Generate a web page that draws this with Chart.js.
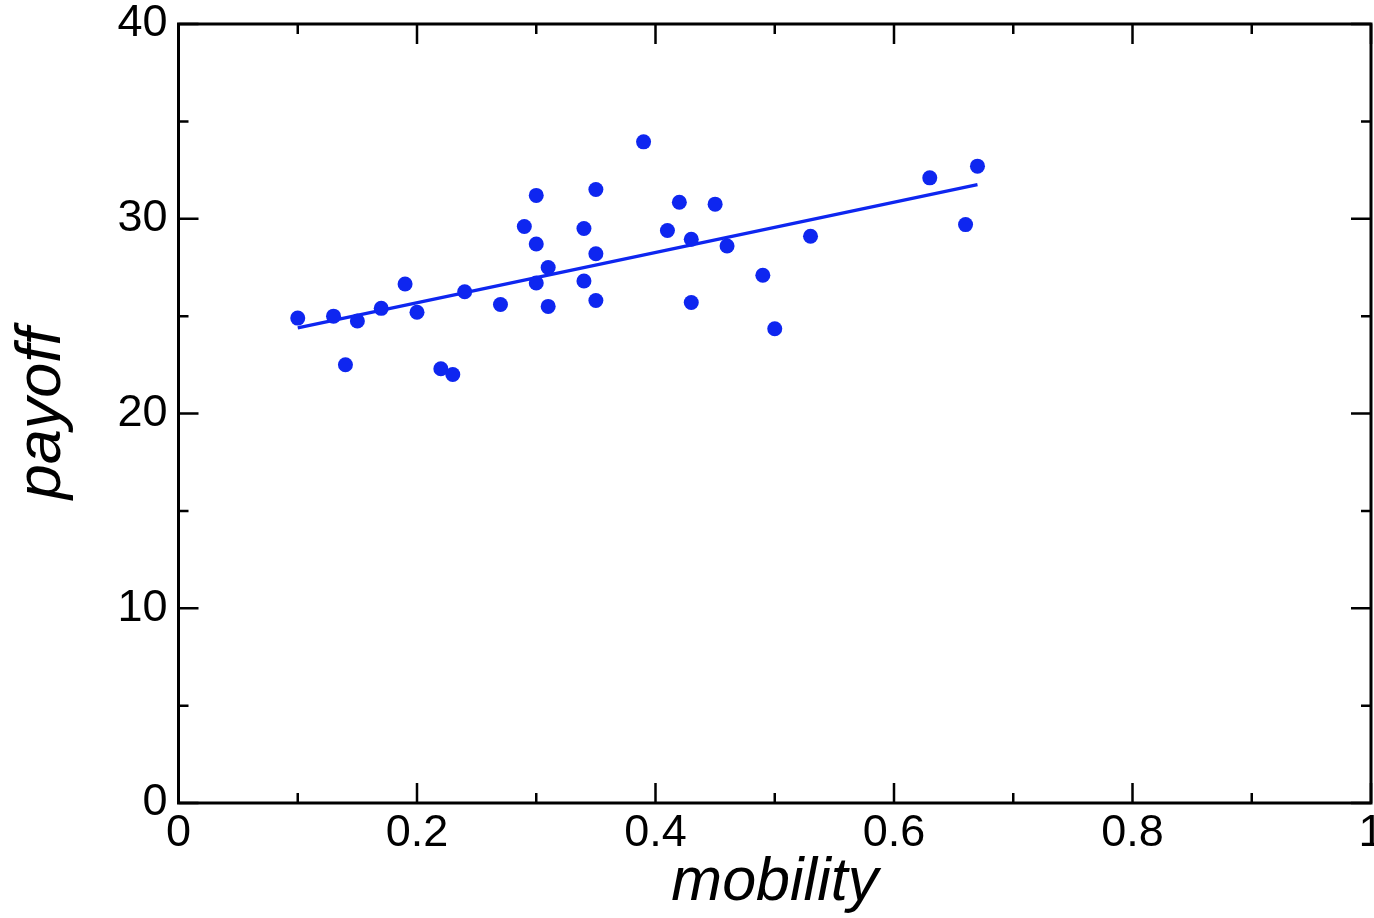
<!DOCTYPE html>
<html>
<head>
<meta charset="utf-8">
<title>payoff vs mobility</title>
<script src="https://cdn.jsdelivr.net/npm/chart.js@4/dist/chart.umd.min.js"></script>
<style>
  html, body { margin: 0; padding: 0; background: #fff; }
  canvas { display: block; }
</style>
</head>
<body>
<canvas id="c" width="1374" height="918"></canvas>
<script>
// Observed mobility and payoff for each individual
const mobility = [0.10, 0.13, 0.14, 0.15, 0.17, 0.19, 0.20, 0.22, 0.23, 0.24,
                  0.27, 0.29, 0.30, 0.30, 0.30, 0.31, 0.31, 0.34, 0.34, 0.35,
                  0.35, 0.35, 0.39, 0.41, 0.42, 0.43, 0.43, 0.45, 0.46, 0.49,
                  0.50, 0.53, 0.63, 0.66, 0.67];
const payoff   = [24.9, 25.0, 22.5, 24.75, 25.4, 26.65, 25.2, 22.3, 22.0, 26.25,
                  25.6, 29.6, 31.2, 28.7, 26.7, 27.5, 25.5, 29.5, 26.8, 31.5,
                  28.2, 25.8, 33.95, 29.4, 30.85, 28.95, 25.7, 30.75, 28.6, 27.1,
                  24.35, 29.1, 32.1, 29.7, 32.7];

// Least-squares fit line end points
const fitX = [0.10, 0.67];
const fitY = [24.4, 31.75];

// Axis ticks
const xTickValues = [0, 0.2, 0.4, 0.6, 0.8, 1];
const xTickLabels = ['0', '0.2', '0.4', '0.6', '0.8', '1'];
const xMinorValues = [0.1, 0.3, 0.5, 0.7, 0.9];
const yTickValues = [0, 10, 20, 30, 40];
const yTickLabels = ['0', '10', '20', '30', '40'];
const yMinorValues = [5, 15, 25, 35];

const xTitle = 'mobility';
const yTitle = 'payoff';

const BLUE = 'rgb(14, 38, 240)';
const FONT = '"Liberation Sans", Arial, Helvetica, sans-serif';

// Boxed frame with inward major/minor ticks on all four sides
const framePlugin = {
  id: 'frame',
  beforeDatasetsDraw(chart) {
    const { ctx, chartArea: a, scales: { x, y } } = chart;
    ctx.save();
    ctx.strokeStyle = '#000';
    ctx.lineCap = 'butt';
    ctx.lineWidth = 2.5;
    const majorLen = 20, minorLen = 10;
    const tickX = (v, len) => {
      const px = x.getPixelForValue(v);
      ctx.beginPath();
      ctx.moveTo(px, a.bottom); ctx.lineTo(px, a.bottom - len);
      ctx.moveTo(px, a.top); ctx.lineTo(px, a.top + len);
      ctx.stroke();
    };
    const tickY = (v, len) => {
      const py = y.getPixelForValue(v);
      ctx.beginPath();
      ctx.moveTo(a.left, py); ctx.lineTo(a.left + len, py);
      ctx.moveTo(a.right, py); ctx.lineTo(a.right - len, py);
      ctx.stroke();
    };
    xTickValues.forEach(v => tickX(v, majorLen));
    xMinorValues.forEach(v => tickX(v, minorLen));
    yTickValues.forEach(v => tickY(v, majorLen));
    yMinorValues.forEach(v => tickY(v, minorLen));
    ctx.lineWidth = 3;
    ctx.strokeRect(a.left, a.top, a.right - a.left, a.bottom - a.top);
    ctx.restore();
  }
};

new Chart(document.getElementById('c'), {
  type: 'scatter',
  data: {
    datasets: [
      {
        label: 'payoff',
        data: mobility.map((m, i) => ({ x: m, y: payoff[i] })),
        backgroundColor: BLUE,
        borderColor: BLUE,
        borderWidth: 0,
        pointRadius: 7.5,
        pointHoverRadius: 7.5
      },
      {
        type: 'line',
        label: 'fit',
        data: fitX.map((m, i) => ({ x: m, y: fitY[i] })),
        borderColor: BLUE,
        borderWidth: 3.2,
        pointRadius: 0,
        fill: false,
        tension: 0
      }
    ]
  },
  options: {
    responsive: false,
    animation: false,
    events: [],
    layout: {
      autoPadding: false,
      padding: { top: 24, right: 3, left: 0, bottom: 0 }
    },
    plugins: {
      legend: { display: false },
      tooltip: { enabled: false }
    },
    scales: {
      x: {
        type: 'linear',
        min: 0,
        max: 1,
        afterBuildTicks(s) { s.ticks = xTickValues.map(v => ({ value: v })); },
        afterFit(s) {
          s.height = 115;
          // end labels may overhang the plot edges
          s.paddingLeft = 0; s.paddingRight = 0;
        },
        grid: { display: true, drawOnChartArea: false, drawTicks: false },
        border: { display: false },
        ticks: {
          padding: 4,
          color: '#000',
          maxRotation: 0,
          autoSkip: false,
          font: { family: FONT, size: 45 },
          callback: (v, i) => xTickLabels[i]
        },
        title: {
          display: true,
          text: xTitle,
          color: '#000',
          padding: { top: 0, bottom: -2 },
          font: { family: FONT, size: 61, style: 'italic' }
        }
      },
      y: {
        type: 'linear',
        min: 0,
        max: 40,
        afterBuildTicks(s) { s.ticks = yTickValues.map(v => ({ value: v })); },
        afterFit(s) {
          s.width = 178.5;
          s.paddingTop = 0; s.paddingBottom = 0;
        },
        grid: { display: true, drawOnChartArea: false, drawTicks: false },
        border: { display: false },
        ticks: {
          padding: 11,
          color: '#000',
          autoSkip: false,
          font: { family: FONT, size: 45 },
          callback: (v, i) => yTickLabels[i]
        },
        title: {
          display: true,
          text: yTitle,
          color: '#000',
          padding: { top: 5, bottom: 0 },
          font: { family: FONT, size: 63, style: 'italic' }
        }
      }
    }
  },
  plugins: [framePlugin]
});
</script>
</body>
</html>
